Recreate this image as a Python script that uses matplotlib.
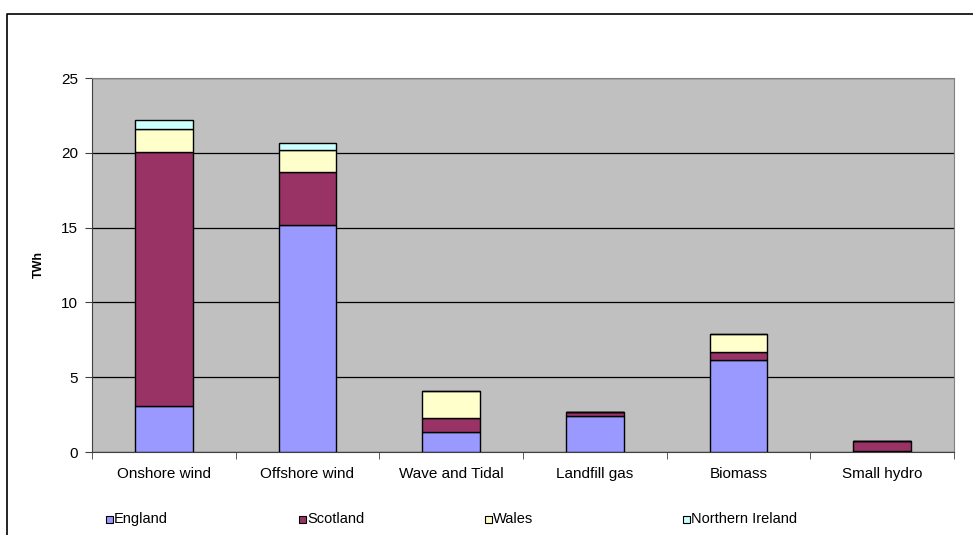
import matplotlib.pyplot as plt
from matplotlib.lines import Line2D
from matplotlib.patches import Rectangle

plt.rcParams['font.family'] = ['Liberation Sans', 'DejaVu Sans']

categories = ['Onshore wind', 'Offshore wind', 'Wave and Tidal', 'Landfill gas', 'Biomass', 'Small hydro']
regions = ['England', 'Scotland', 'Wales', 'Northern Ireland']
england = [3.07, 15.2, 1.36, 2.43, 6.13, 0.07]
scotland = [16.98, 3.54, 0.89, 0.22, 0.57, 0.69]
wales = [1.55, 1.43, 1.81, 0.05, 1.19, 0.0]
northern_ireland = [0.6, 0.49, 0.03, 0.0, 0.0, 0.0]
colors = ['#9999FF', '#993366', '#FFFFCC', '#CCFFFF']

fig = plt.figure(figsize=(9.73, 5.35), dpi=100)
ax = fig.add_axes([92 / 973, 83 / 535, 862 / 973, 374 / 535])
ax.set_facecolor('#C0C0C0')

x = range(len(categories))
bottom = [0.0] * len(categories)
for series, color in zip([england, scotland, wales, northern_ireland], colors):
    ax.bar(x, series, width=0.4, bottom=bottom, color=color,
           edgecolor='black', linewidth=1.0, zorder=3)
    bottom = [b + v for b, v in zip(bottom, series)]

ax.set_xlim(-0.5, len(categories) - 0.5)
ax.set_ylim(0, 25)
ax.set_yticks([0, 5, 10, 15, 20, 25])
ax.yaxis.grid(True, color='black', linewidth=0.9, zorder=1)
ax.set_axisbelow(True)

# category labels centred, tick marks between categories
ax.set_xticks(list(x))
ax.set_xticklabels(categories, fontsize=11)
ax.set_xticks([i - 0.5 for i in range(len(categories) + 1)], minor=True)
ax.tick_params(axis='x', which='major', length=0, pad=11)
ax.tick_params(axis='x', which='minor', length=5, color='#404040', direction='out')
ax.tick_params(axis='y', length=5, color='#404040', direction='out', labelsize=11, pad=5)

for side in ['left', 'bottom']:
    ax.spines[side].set_color('#404040')
for side in ['top', 'right']:
    ax.spines[side].set_color('#808080')

ax.set_ylabel('TWh', fontsize=9, fontweight='bold', labelpad=12)

# chart area border (top and left edges)
fig.add_artist(Line2D([7 / 973, 7 / 973, 1.0], [0.0, 1 - 14 / 535, 1 - 14 / 535],
                      transform=fig.transFigure, color='black', linewidth=1.2))

# legend along the bottom
legend_x = [106, 299, 485, 683]
legend_y = 1 - 519 / 535
for name, color, lx in zip(regions, colors, legend_x):
    fig.add_artist(Rectangle((lx / 973, legend_y - 4 / 535), 7 / 973, 7 / 535,
                             transform=fig.transFigure, facecolor=color,
                             edgecolor='black', linewidth=0.8))
    fig.text((lx + 8) / 973, legend_y, name, fontsize=10.5, va='center', ha='left')

fig.savefig('out.png', dpi=100)
